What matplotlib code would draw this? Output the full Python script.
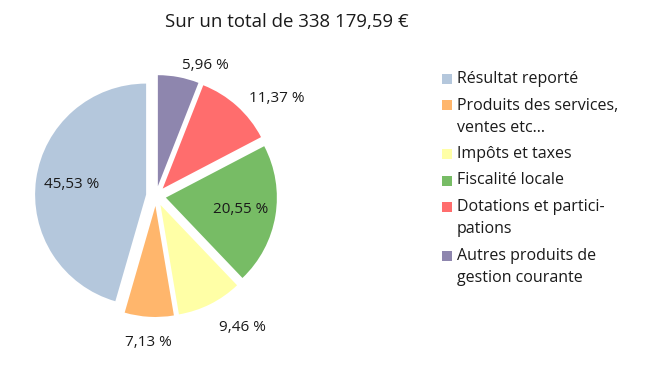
import matplotlib.pyplot as plt
from matplotlib.patches import Rectangle
import numpy as np

plt.rcParams['font.family'] = ['Open Sans', 'DejaVu Sans']

title = 'Sur un total de 338 179,59 €'
categories = ['Résultat reporté', 'Produits des services,\nventes etc...',
              'Impôts et taxes', 'Fiscalité locale',
              'Dotations et partici-\npations',
              'Autres produits de\ngestion courante']
shares = [45.53, 7.13, 9.46, 20.55, 11.37, 5.96]
colors = ['#b4c7dc', '#ffb66c', '#ffffa6', '#77bc65', '#ff6d6d', '#8e86ae']

W, H = 649, 365
fig = plt.figure(figsize=(W / 100, H / 100), dpi=100)

# pie axes: radius 1 -> ~111 px, centred at (156, 196) px from top-left
r_px = 111
cx, cy = 156, 196
ax = fig.add_axes([(cx - 1.5 * r_px) / W, (H - cy - 1.5 * r_px) / H,
                   3 * r_px / W, 3 * r_px / H])

pct_labels = [('%.2f %%' % v).replace('.', ',') for v in shares]
wedges, texts = ax.pie(shares, colors=colors, startangle=90,
                       explode=[0.09] * len(shares), labels=pct_labels,
                       wedgeprops=dict(linewidth=0),
                       textprops=dict(fontsize=11, color='#1a1a1a'))

for w, t, v in zip(wedges, texts, shares):
    mid = np.deg2rad((w.theta1 + w.theta2) / 2)
    inside = v > 15
    d = 0.68 if inside else 1.17
    x = w.center[0] + d * w.r * np.cos(mid)
    y = w.center[1] + d * w.r * np.sin(mid)
    if not inside:
        y -= 0.06
    t.set_position((x, y))
    if inside or abs(np.cos(mid)) < 0.1:
        t.set_ha('center')
    else:
        t.set_ha('left' if np.cos(mid) > 0 else 'right')
    t.set_va('center')

ax.set_xlim(-1.5, 1.5)
ax.set_ylim(-1.5, 1.5)
ax.axis('off')

fig.text(287 / W, 1 - 22 / H, title, ha='center', va='center',
         fontsize=13.4, color='#1a1a1a')

# legend, drawn by hand so markers line up with the first text line
y = 79
for lab, c in zip(categories, colors):
    fig.patches.append(Rectangle(((442) / W, 1 - (y + 5) / H), 10 / W, 10 / H,
                                 transform=fig.transFigure, facecolor=c,
                                 edgecolor='none'))
    lines = lab.split('\n')
    for k, line in enumerate(lines):
        fig.text(457 / W, 1 - (y + 22 * k) / H, line, ha='left',
                 va='center', fontsize=11.5, color='#1a1a1a')
    y += 22 * (len(lines) - 1) + 26.5

fig.savefig('out.png', dpi=100)
